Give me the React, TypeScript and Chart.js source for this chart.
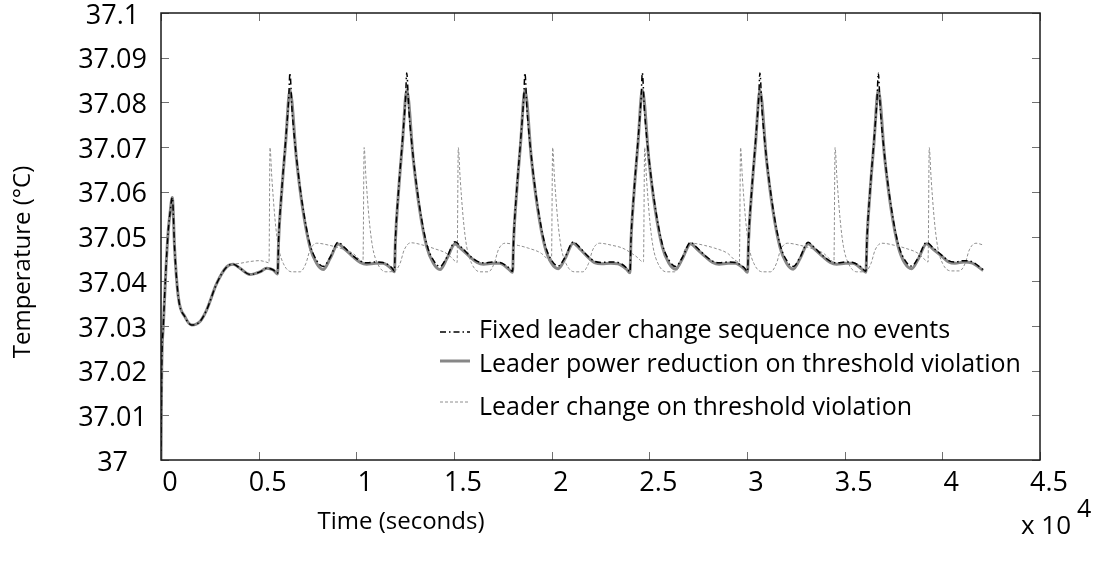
import React, { useEffect, useRef } from "react";
import { Chart, registerables } from "chart.js";

Chart.register(...registerables);

// ---------- Data (time in seconds, temperature in °C) ----------
const seriesNames = [
  "Fixed leader change sequence no events",
  "Leader power reduction on threshold violation",
  "Leader change on threshold violation",
];

const xTitle = "Time (seconds)";
const yTitle = "Temperature (°C)";

const xTickValues = [0, 5000, 10000, 15000, 20000, 25000, 30000, 35000, 40000, 45000];
const yTickValues = [37, 37.01, 37.02, 37.03, 37.04, 37.05, 37.06, 37.07, 37.08, 37.09, 37.1];

const fixedTime = [
  0, 36, 118, 256, 374, 461, 579, 700, 886, 1229, 1572, 1997, 2340, 2852, 3364, 3701,
  4044, 4556, 5068, 5411, 5749,
  5970, 6020, 6175, 6380, 6540, 6600, 6710, 6940, 7265, 7625, 7965, 8305, 8650, 9070, 9400, 9825, 10200, 10530, 11000, 11360, 11800,
  11950, 12000, 12155, 12360, 12520, 12580, 12690, 12920, 13245, 13605, 13945, 14285, 14630, 15050, 15380, 15805, 16180, 16510, 16980, 17340, 17780,
  18000, 18050, 18205, 18410, 18570, 18630, 18740, 18970, 19295, 19655, 19995, 20335, 20680, 21100, 21430, 21855, 22230, 22560, 23030, 23390, 23830,
  24010, 24060, 24215, 24420, 24580, 24640, 24750, 24980, 25305, 25665, 26005, 26345, 26690, 27110, 27440, 27865, 28240, 28570, 29040, 29400, 29840,
  30030, 30080, 30235, 30440, 30600, 30660, 30770, 31000, 31325, 31685, 32025, 32365, 32710, 33130, 33460, 33885, 34260, 34590, 35060, 35420, 35860,
  36090, 36140, 36295, 36500, 36660, 36720, 36830, 37060, 37385, 37745, 38085, 38425, 38770, 39190, 39520, 39945, 40320, 40650, 41100, 41500, 42090,
];
const fixedTemp = [
  37.0, 37.02, 37.03, 37.043, 37.0515, 37.0552, 37.0587, 37.047, 37.0365, 37.032, 37.0302, 37.031, 37.0336, 37.0395, 37.0432, 37.0438,
  37.0429, 37.0415, 37.0421, 37.0429, 37.0425,
  37.0418, 37.0492, 37.06, 37.0715, 37.081, 37.0866, 37.0782, 37.0675, 37.0565, 37.0483, 37.0447, 37.0433, 37.0453, 37.0487, 37.0475, 37.0457, 37.0445, 37.0441, 37.0443, 37.0442, 37.0431,
  37.0423, 37.0492, 37.06, 37.0715, 37.081, 37.0866, 37.0782, 37.0675, 37.0565, 37.0483, 37.0447, 37.0433, 37.0453, 37.0488, 37.0476, 37.0457, 37.0445, 37.0441, 37.0443, 37.0442, 37.0431,
  37.0422, 37.0492, 37.06, 37.0715, 37.081, 37.0866, 37.0782, 37.0675, 37.0565, 37.0483, 37.0447, 37.0434, 37.0453, 37.0488, 37.0476, 37.0456, 37.0444, 37.0442, 37.0443, 37.0442, 37.043,
  37.0421, 37.0492, 37.06, 37.0715, 37.081, 37.0866, 37.0782, 37.0675, 37.0565, 37.0483, 37.0447, 37.0433, 37.0453, 37.0487, 37.0475, 37.0457, 37.0445, 37.0441, 37.0443, 37.0442, 37.0431,
  37.0422, 37.0492, 37.06, 37.0715, 37.081, 37.0866, 37.0782, 37.0675, 37.0565, 37.0483, 37.0447, 37.0433, 37.0453, 37.0487, 37.0475, 37.0457, 37.0445, 37.0441, 37.0443, 37.0442, 37.0431,
  37.0422, 37.0492, 37.06, 37.0715, 37.081, 37.0866, 37.0782, 37.0675, 37.0565, 37.0483, 37.0447, 37.0434, 37.0453, 37.0487, 37.0475, 37.0459, 37.0446, 37.0443, 37.0446, 37.0444, 37.0426,
];

const powerTime = [
  0, 36, 118, 256, 374, 461, 579, 700, 886, 1229, 1572, 1997, 2340, 2852, 3364, 3701,
  4044, 4556, 5068, 5411, 5749,
  5970, 6020, 6175, 6380, 6600, 6940, 7265, 7625, 7965, 8305, 8650, 9070, 9400, 9825, 10200, 10530, 11000, 11360, 11800,
  11950, 12000, 12155, 12360, 12580, 12920, 13245, 13605, 13945, 14285, 14630, 15050, 15380, 15805, 16180, 16510, 16980, 17340, 17780,
  18000, 18050, 18205, 18410, 18630, 18970, 19295, 19655, 19995, 20335, 20680, 21100, 21430, 21855, 22230, 22560, 23030, 23390, 23830,
  24010, 24060, 24215, 24420, 24640, 24980, 25305, 25665, 26005, 26345, 26690, 27110, 27440, 27865, 28240, 28570, 29040, 29400, 29840,
  30030, 30080, 30235, 30440, 30660, 31000, 31325, 31685, 32025, 32365, 32710, 33130, 33460, 33885, 34260, 34590, 35060, 35420, 35860,
  36090, 36140, 36295, 36500, 36720, 37060, 37385, 37745, 38085, 38425, 38770, 39190, 39520, 39945, 40320, 40650, 41100, 41500, 42090,
];
const powerTemp = [
  37.0, 37.02, 37.03, 37.043, 37.0515, 37.0552, 37.0587, 37.047, 37.0365, 37.032, 37.0302, 37.031, 37.0336, 37.0395, 37.0432, 37.0438,
  37.0429, 37.0415, 37.0421, 37.0429, 37.0425,
  37.0416, 37.049, 37.0597, 37.0709, 37.0828, 37.0671, 37.0559, 37.0477, 37.044, 37.0426, 37.045, 37.0483, 37.0472, 37.0455, 37.0442, 37.0438, 37.044, 37.044, 37.0428,
  37.0421, 37.049, 37.0597, 37.0709, 37.0828, 37.0671, 37.0559, 37.0477, 37.044, 37.0426, 37.045, 37.0483, 37.0472, 37.0455, 37.0442, 37.0438, 37.044, 37.044, 37.0428,
  37.042, 37.049, 37.0597, 37.0709, 37.0828, 37.0671, 37.0559, 37.0477, 37.044, 37.0428, 37.045, 37.0485, 37.0473, 37.0454, 37.0441, 37.0439, 37.044, 37.0439, 37.0427,
  37.0419, 37.049, 37.0597, 37.0709, 37.0828, 37.0671, 37.0559, 37.0477, 37.044, 37.0427, 37.045, 37.0484, 37.0472, 37.0455, 37.0442, 37.0438, 37.044, 37.044, 37.0428,
  37.042, 37.049, 37.0597, 37.0709, 37.0828, 37.0671, 37.0559, 37.0477, 37.044, 37.0427, 37.045, 37.0484, 37.0472, 37.0455, 37.0442, 37.0438, 37.044, 37.044, 37.0428,
  37.042, 37.049, 37.0597, 37.0709, 37.0828, 37.0671, 37.0559, 37.0477, 37.044, 37.0428, 37.045, 37.0484, 37.0472, 37.0457, 37.0443, 37.044, 37.0443, 37.0441, 37.0424,
];

const changeTime = [
  0, 36, 118, 256, 374, 461, 579, 700, 886, 1229, 1572, 1997, 2340, 2852, 3364, 3701,
  4044, 4556, 5068, 5376, 5530,
  5580, 5670, 5840, 6010, 6260, 6690, 7120, 7420, 7630, 7970, 8650, 9160, 9840, 10180, 10340,
  10400, 10490, 10660, 10830, 11080, 11510, 11940, 12240, 12450, 12790, 13470, 13980, 14660, 15000, 15160,
  15220, 15310, 15480, 15650, 15900, 16330, 16760, 17060, 17270, 17610, 18290, 18800, 19480, 19820, 19990,
  20050, 20140, 20310, 20480, 20730, 21160, 21590, 21890, 22100, 22440, 23120, 23630, 24310, 24700,
  24760, 24850, 25020, 25190, 25440, 25870, 26300, 26600, 26810, 27150, 27830, 28340, 29020, 29360, 29610,
  29670, 29760, 29930, 30100, 30350, 30780, 31210, 31510, 31720, 32060, 32740, 33250, 33930, 34270, 34450,
  34510, 34600, 34770, 34940, 35190, 35620, 36050, 36350, 36560, 36900, 37580, 38090, 38770, 39110, 39270,
  39330, 39420, 39590, 39760, 40010, 40440, 40870, 41170, 41380, 41720, 42100,
];
const changeTemp = [
  37.0, 37.02, 37.03, 37.043, 37.0515, 37.0552, 37.0587, 37.047, 37.0365, 37.032, 37.0302, 37.031, 37.0336, 37.0395, 37.0432, 37.0438,
  37.044, 37.0444, 37.0446, 37.0443, 37.0441,
  37.0699, 37.0634, 37.0537, 37.0477, 37.044, 37.0421, 37.0421, 37.044, 37.047, 37.0485, 37.048, 37.0474, 37.0462, 37.0448, 37.0443,
  37.0699, 37.0634, 37.0537, 37.0477, 37.044, 37.0421, 37.0422, 37.044, 37.047, 37.0486, 37.048, 37.0473, 37.0461, 37.0447, 37.0442,
  37.0699, 37.0634, 37.0537, 37.0477, 37.044, 37.0421, 37.0421, 37.044, 37.047, 37.0485, 37.048, 37.0474, 37.0462, 37.0448, 37.0443,
  37.0699, 37.0634, 37.0537, 37.0477, 37.044, 37.0421, 37.0421, 37.044, 37.047, 37.0485, 37.048, 37.0474, 37.0456, 37.0443,
  37.0699, 37.0634, 37.0537, 37.0477, 37.044, 37.0421, 37.0421, 37.044, 37.047, 37.0485, 37.048, 37.0474, 37.0462, 37.0448, 37.0443,
  37.0699, 37.0634, 37.0537, 37.0477, 37.044, 37.0421, 37.0421, 37.044, 37.047, 37.0485, 37.048, 37.0474, 37.0462, 37.0448, 37.0443,
  37.0699, 37.0634, 37.0537, 37.0477, 37.044, 37.0421, 37.0421, 37.044, 37.047, 37.0485, 37.048, 37.0474, 37.0462, 37.0448, 37.0443,
  37.0699, 37.0634, 37.0537, 37.0477, 37.044, 37.0423, 37.0423, 37.044, 37.047, 37.0485, 37.0481,
];

// ---------- Styles ----------
const FONT = '"Open Sans", "DejaVu Sans", sans-serif';
const fixedStyle = { color: "#000000", width: 1.5, dash: [6, 3, 1.5, 3] };
const powerStyle = { color: "#878787", width: 3, dash: [] as number[] };
const changeStyle = { color: "#8e8e8e", width: 1, dash: [3, 2] };

const toPoints = (t: number[], v: number[]) => t.map((x, i) => ({ x, y: v[i] }));

const fmtY = (v: number) => String(Number(v.toFixed(2)));
const fmtX = (v: number) => String(Number((v / 10000).toFixed(1)));

const decorPlugin = {
  id: "decor",
  afterDraw(chart: any) {
    const { ctx, chartArea, scales } = chart;
    const { left, right, top, bottom } = chartArea;
    const xs = scales.x;
    const ys = scales.y;
    ctx.save();

    // inner tick marks on all four sides
    ctx.strokeStyle = "#707070";
    ctx.lineWidth = 1;
    ctx.beginPath();
    for (const v of xTickValues) {
      const px = Math.round(xs.getPixelForValue(v)) + 0.5;
      ctx.moveTo(px, bottom);
      ctx.lineTo(px, bottom - 8);
      ctx.moveTo(px, top);
      ctx.lineTo(px, top + 8);
    }
    for (const v of yTickValues) {
      const py = Math.round(ys.getPixelForValue(v)) + 0.5;
      ctx.moveTo(left, py);
      ctx.lineTo(left + 8, py);
      ctx.moveTo(right, py);
      ctx.lineTo(right - 8, py);
    }
    ctx.stroke();

    // frame
    ctx.strokeStyle = "#1a1a1a";
    ctx.lineWidth = 1.5;
    ctx.strokeRect(left, top, right - left, bottom - top);

    // legend
    const styles = [fixedStyle, powerStyle, changeStyle];
    const lineY = [332, 361, 402];
    const textBase = [338, 372, 415];
    ctx.font = `25px ${FONT}`;
    ctx.fillStyle = "#000";
    ctx.textAlign = "left";
    ctx.textBaseline = "alphabetic";
    styles.forEach((s, i) => {
      ctx.beginPath();
      ctx.strokeStyle = s.color;
      ctx.lineWidth = s.width;
      ctx.setLineDash(s.dash);
      ctx.moveTo(440, lineY[i]);
      ctx.lineTo(470, lineY[i]);
      ctx.stroke();
      ctx.setLineDash([]);
      ctx.fillText(seriesNames[i], 479, textBase[i]);
    });

    // axis titles
    ctx.font = `24px ${FONT}`;
    ctx.textAlign = "center";
    ctx.textBaseline = "middle";
    ctx.fillText(xTitle, 401, 522);
    ctx.save();
    ctx.translate(23, 262);
    ctx.rotate(-Math.PI / 2);
    ctx.fillText(yTitle, 0, 0);
    ctx.restore();

    // exponent
    ctx.textAlign = "left";
    ctx.textBaseline = "alphabetic";
    ctx.font = `26px ${FONT}`;
    ctx.fillText("x 10", 1021, 534);
    ctx.font = `25px ${FONT}`;
    ctx.fillText("4", 1077, 517);

    ctx.restore();
  },
};

export default function App() {
  const ref = useRef<HTMLCanvasElement>(null);

  useEffect(() => {
    const canvas = ref.current;
    if (!canvas) return;
    const mk = (label: string, t: number[], v: number[], s: any) => ({
      label,
      data: toPoints(t, v),
      borderColor: s.color,
      backgroundColor: s.color,
      borderWidth: s.width,
      borderDash: s.dash,
      pointRadius: 0,
      fill: false,
      cubicInterpolationMode: "monotone" as const,
      borderJoinStyle: "round" as const,
    });
    const chart = new Chart(canvas, {
      type: "line",
      data: {
        datasets: [
          mk(seriesNames[0], fixedTime, fixedTemp, fixedStyle),
          mk(seriesNames[2], changeTime, changeTemp, changeStyle),
          mk(seriesNames[1], powerTime, powerTemp, powerStyle),
        ],
      },
      options: {
        responsive: false,
        animation: false,
        layout: { padding: { left: 0, right: 57, top: 13, bottom: 0 } },
        plugins: { legend: { display: false }, tooltip: { enabled: false } },
        scales: {
          x: {
            type: "linear",
            min: 0,
            max: 45000,
            afterBuildTicks: (scale: any) => {
              scale.ticks = xTickValues.map((value) => ({ value }));
            },
            afterFit: (scale: any) => {
              scale.height = 104;
              scale.paddingLeft = 0;
              scale.paddingRight = 0;
            },
            grid: { display: false, drawTicks: false },
            border: { display: false },
            ticks: {
              autoSkip: false,
              maxRotation: 0,
              minRotation: 0,
              padding: 7,
              labelOffset: 9,
              color: "#000",
              font: { family: FONT, size: 27 },
              callback: (v: any) => fmtX(Number(v)),
            },
          },
          y: {
            type: "linear",
            min: 37,
            max: 37.1,
            afterBuildTicks: (scale: any) => {
              scale.ticks = yTickValues.map((value) => ({ value }));
            },
            afterFit: (scale: any) => {
              scale.width = 161;
              scale.paddingTop = 0;
              scale.paddingBottom = 0;
            },
            grid: { display: false, drawTicks: false },
            border: { display: false },
            ticks: {
              autoSkip: false,
              crossAlign: "center",
              padding: 14,
              labelOffset: 3,
              color: "#000",
              font: { family: FONT, size: 27 },
              callback: (v: any) => fmtY(Number(v)),
            },
          },
        },
      },
      plugins: [decorPlugin],
    });
    return () => chart.destroy();
  }, []);

  return (
    <div style={{ position: "fixed", left: 0, top: 0, width: 1097, height: 564, background: "#fff" }}>
      <canvas ref={ref} width={1097} height={564} style={{ display: "block" }} />
    </div>
  );
}
